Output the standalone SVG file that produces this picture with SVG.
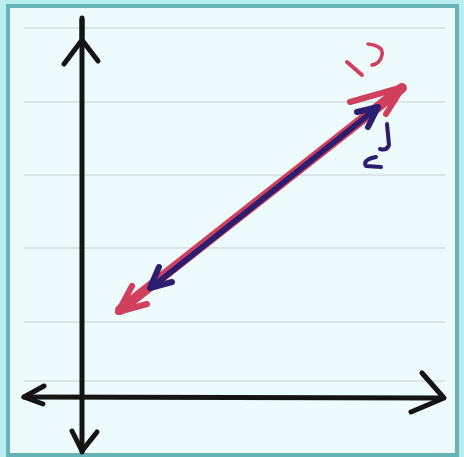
<svg xmlns="http://www.w3.org/2000/svg" width="464" height="457" viewBox="0 0 464 457">
<defs>
<style>
.rule{stroke:#d9e5e8;stroke-width:2}
.ax{fill:none;stroke:#141414;stroke-width:5;stroke-linecap:round;stroke-linejoin:round}
.red{fill:none;stroke:#d0405c;stroke-linecap:round;stroke-linejoin:round}
.blue{fill:none;stroke:#2b1d70;stroke-linecap:round;stroke-linejoin:round}
</style>
</defs>
<rect x="0" y="0" width="464" height="457" fill="#b8eef0"/>
<rect x="8" y="6" width="449" height="449" fill="#eefbfc" stroke="#66b4b6" stroke-width="4"/>
<g id="rules">
<line class="rule" x1="24" y1="28" x2="445" y2="28"/>
<line class="rule" x1="24" y1="102" x2="445" y2="102"/>
<line class="rule" x1="24" y1="175" x2="445" y2="175"/>
<line class="rule" x1="24" y1="248" x2="445" y2="248"/>
<line class="rule" x1="24" y1="322" x2="445" y2="322"/>
<line class="rule" x1="24" y1="381" x2="445" y2="381"/>
</g>
<g id="y-axis">
<path class="ax" d="M82 452 L82 20"/>
<path class="ax" d="M64 64 L82 40 L98 61 M82 40 L82 18"/>
<path class="ax" d="M72 431 L82 451 L97 432"/>
</g>
<g id="x-axis">
<path class="ax" d="M24 397 L443 398"/>
<path class="ax" d="M44 386 L24 397 L43 404"/>
<path class="ax" d="M422 373 L444 398 L411 412"/>
</g>
<g id="connectors">
<g id="red-line">
<path class="red" stroke="#f4c6d2" stroke-width="10" d="M120 310 L402 88"/>
<path class="red" stroke-width="5" d="M120 310 L402 88"/>
<path class="red" stroke-width="6" d="M350 102 L403 87 L386 114"/>
<path class="red" stroke-width="6" d="M132 286 L118 312 L147 304"/>
<path class="red" stroke-width="4" d="M347 62 L362 75"/>
<path class="red" stroke-width="3.5" d="M368 44 Q384 46 382 55 Q380 64 372 65"/>
</g>
<g id="blue-line">
<path class="blue" stroke-width="5.5" d="M152 287 L377 108"/>
<path class="blue" stroke-width="6" d="M357 112 L378 107 L368 127"/>
<path class="blue" stroke-width="6" d="M159 267 L150 288 L172 282"/>
<path class="blue" stroke-width="4" d="M387 124 L389 145 Q387 151 380 149"/>
<path class="blue" stroke-width="4" d="M376 157 Q362 160 366 166 L381 167"/>
</g>
</g>
</svg>
